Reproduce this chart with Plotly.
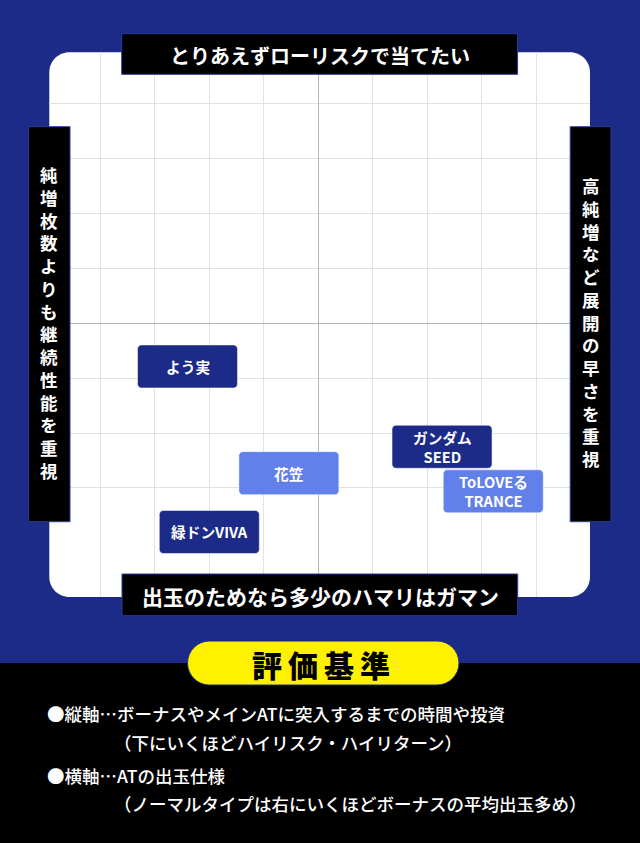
import plotly.graph_objects as go

W, H = 640, 843

# ---- data ----
names = ["よう実", "花笠", "緑ドンVIVA", "ガンダム<br>SEED", "ToLOVEる<br>TRANCE"]
x_vals = [-2.40, -0.54, -2.00, 2.27, 3.21]
y_vals = [-0.79, -2.73, -3.80, -2.25, -3.06]
kinds = ["dark", "light", "dark", "dark", "light"]

x_ticks = [-4, -3, -2, -1, 1, 2, 3, 4]
y_ticks = [-3, -2, -1, 1, 2, 3, 4]

top_label = "とりあえずローリスクで当てたい"
bottom_label = "出玉のためなら多少のハマリはガマン"
left_label = "純増枚数よりも継続性能を重視"
right_label = "高純増など展開の早さを重視"
legend_title = "評価基準"
legend_lines = [
    "●縦軸…ボーナスやメインATに突入するまでの時間や投資",
    "（下にいくほどハイリスク・ハイリターン）",
    "●横軸…ATの出玉仕様",
    "（ノーマルタイプは右にいくほどボーナスの平均出玉多め）",
]

NAVY = "#1b2b87"
LIGHT = "#6180e9"
YELLOW = "#fff100"
FONT = "Noto Sans CJK JP"
box_color = {"dark": NAVY, "light": LIGHT}


def px(x):
    return x / W


def py(y):
    return 1 - y / H


def rounded(x0, y0, x1, y1, rx, ry):
    # rounded rectangle path, y0 is the lower edge
    k = 0.4477
    return (f"M{x0+rx},{y0} L{x1-rx},{y0} C{x1-rx*k},{y0} {x1},{y0+ry*k} {x1},{y0+ry} "
            f"L{x1},{y1-ry} C{x1},{y1-ry*k} {x1-rx*k},{y1} {x1-rx},{y1} "
            f"L{x0+rx},{y1} C{x0+rx*k},{y1} {x0},{y1-ry*k} {x0},{y1-ry} "
            f"L{x0},{y0+ry} C{x0},{y0+ry*k} {x0+rx*k},{y0} {x0+rx},{y0} Z")


def paper_box(left, top, right, bottom, r):
    return rounded(px(left), py(bottom), px(right), py(top), r / W, r / H)


def note(text, x, y, size, color="white", weight="bold", xanchor="center", ref="paper"):
    return dict(text=text, x=x, y=y, xref=ref, yref=ref if ref == "paper" else "y",
                xanchor=xanchor, yanchor="middle", showarrow=False,
                font=dict(size=size, color=color, family=FONT, weight=weight))


fig = go.Figure()
shapes = []
annotations = []

# backgrounds
shapes.append(dict(type="rect", xref="paper", yref="paper", x0=0, x1=1, y0=py(663), y1=1,
                   fillcolor=NAVY, line_width=0, layer="below"))
shapes.append(dict(type="path", xref="paper", yref="paper", path=paper_box(49.3, 52.3, 590, 597, 20),
                   fillcolor="white", line_width=0, layer="below"))

# black axis labels
label_line = dict(color="#2c3c98", width=1)
for l, t, r, b in [(121.7, 33.7, 517.6, 74.3), (122, 574, 517.7, 615.7),
                   (28.3, 126.7, 70, 521.7), (570.2, 126.7, 611, 521.7)]:
    shapes.append(dict(type="rect", xref="paper", yref="paper", x0=px(l), x1=px(r), y0=py(b), y1=py(t),
                       fillcolor="black", line=label_line, layer="above"))

annotations.append(note(top_label, px(320), py(55), 20))
annotations.append(note(bottom_label, px(320), py(596), 21))

# vertical (tategaki) labels, one character per line
annotations.append(note("<br>".join(left_label), px(49.2), py(322), 17.5))
annotations.append(note("<br>".join(right_label), px(590.6), py(322), 17.5))

# item boxes
hw, hh = 50 / 54.5, 21.5 / 55
rx, ry = 4 / 54.5, 4 / 55
for name, xv, yv, kind in zip(names, x_vals, y_vals, kinds):
    shapes.append(dict(type="path", xref="x", yref="y",
                       path=rounded(xv - hw, yv - hh, xv + hw, yv + hh, rx, ry),
                       fillcolor=box_color[kind], line=dict(color="rgba(255,255,255,0.5)", width=1),
                       layer="above"))
    annotations.append(note(name, xv, yv, 14.7, ref="x"))

# criteria block
shapes.append(dict(type="path", xref="paper", yref="paper", path=paper_box(187.5, 641, 459, 685, 22),
                   fillcolor=YELLOW, line=dict(color=NAVY, width=1), layer="above"))
annotations.append(note("\u2009".join(legend_title), px(321), py(664), 30, color="black", weight=900))

for text, xl, yc in zip(legend_lines, [45, 112, 45, 112], [713, 742, 775, 803]):
    annotations.append(note(text, px(xl), py(yc), 17.5, weight=500, xanchor="left"))

fig.update_layout(
    width=W,
    height=H,
    margin=dict(l=0, r=0, t=0, b=0),
    paper_bgcolor="black",
    plot_bgcolor="rgba(0,0,0,0)",
    showlegend=False,
    font=dict(family=FONT),
    shapes=shapes,
    annotations=annotations,
    xaxis=dict(domain=[px(49.3), px(590)], range=[-4.936, 4.985], tickvals=x_ticks,
               showticklabels=False, showgrid=True, gridcolor="#e2e2e2", gridwidth=1,
               zeroline=True, zerolinecolor="#b5b5b5", zerolinewidth=1, showline=False, fixedrange=True),
    yaxis=dict(domain=[py(597), py(52.3)], range=[-4.982, 4.922], tickvals=y_ticks,
               showticklabels=False, showgrid=True, gridcolor="#e2e2e2", gridwidth=1,
               zeroline=True, zerolinecolor="#b5b5b5", zerolinewidth=1, showline=False, fixedrange=True),
)

# page body has a default margin; drop it so the figure fills the window
fig.write_html("out.html", config={"displayModeBar": False},
               post_script="document.body.style.margin='0';")
